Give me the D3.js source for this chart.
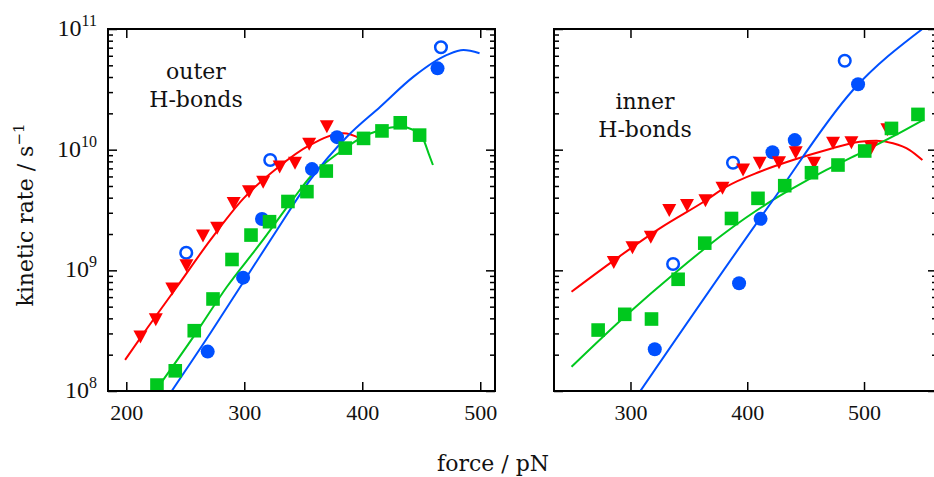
<!DOCTYPE html>
<html>
<head>
<meta charset="utf-8">
<script src="https://cdn.jsdelivr.net/npm/d3@7"></script>
<style>
  body { margin: 0; background: #ffffff; }
  svg { display: block; }
</style>
</head>
<body>
<svg id="chart" width="934" height="477"></svg>
<script>
// ---- Outer H-bonds: measured rates (force in pN, rate in 1/s) ----
const outerRedForce   = [212, 225, 239, 251, 265, 277, 291, 304, 316, 330, 343, 355, 370];
const outerRedRate    = [2.8e8, 3.9e8, 7.0e8, 1.09e9, 1.93e9, 2.23e9, 3.58e9, 4.49e9, 5.37e9, 7.2e9, 7.7e9, 1.11e10, 1.55e10];
const outerGreenForce = [226, 241.5, 257.6, 273.5, 289.6, 305.7, 321.4, 337, 353.1, 369.5, 385.6, 401.1, 416.7, 432.2, 448.6];
const outerGreenRate  = [1.12e8, 1.47e8, 3.16e8, 5.79e8, 1.23e9, 1.96e9, 2.53e9, 3.72e9, 4.49e9, 6.65e9, 1.03e10, 1.24e10, 1.43e10, 1.67e10, 1.32e10];
const outerBlueForce  = [269, 299, 315, 357.4, 378.6, 463.8];
const outerBlueRate   = [2.12e8, 8.7e8, 2.66e9, 6.9e9, 1.27e10, 4.72e10];
const outerOpenForce  = [250.8, 322, 466.7];
const outerOpenRate   = [1.40e9, 8.2e9, 7.05e10];

// ---- Outer H-bonds: fitted curves ----
const outerFitRedForce   = [199, 214.7, 243, 271.2, 299.4, 327.7, 355.9, 384.2, 398.3];
const outerFitRedRate    = [1.81e8, 3.01e8, 7.31e8, 1.78e9, 3.95e9, 7.02e9, 1.094e10, 1.368e10, 1.242e10];
const outerFitGreenForce = [224.6, 257.0, 285.3, 313.6, 341.8, 355.9, 381.4, 398.3, 415.3, 432.2, 443.5, 452.0, 456.2, 459.9];
const outerFitGreenRate  = [1.0e8, 2.82e8, 7.31e8, 1.67e9, 3.95e9, 5.94e9, 9.62e9, 1.242e10, 1.455e10, 1.549e10, 1.455e10, 1.202e10, 9.33e9, 7.46e9];
const outerFitBlueForce  = [238.5, 271.2, 299.4, 327.7, 355.9, 387.0, 415.3, 443.5, 471.8, 485.8, 499.4];
const outerFitBlueRate   = [1.0e8, 3.01e8, 8.05e8, 2.16e9, 5.62e9, 1.279e10, 2.27e10, 4.03e10, 6.10e10, 6.70e10, 6.30e10];

// ---- Inner H-bonds: measured rates ----
const innerRedForce   = [285.7, 301.7, 317.4, 333.2, 348.4, 364.2, 378.8, 396.4, 410.7, 427.2, 441.5, 457.2, 473.5, 489.2, 506.3, 520.0];
const innerRedRate    = [1.16e9, 1.54e9, 1.88e9, 3.13e9, 3.45e9, 3.77e9, 4.78e9, 6.78e9, 7.71e9, 7.80e9, 9.44e9, 7.71e9, 1.13e10, 1.14e10, 1.03e10, 1.46e10];
const innerGreenForce = [272.3, 295.1, 318.0, 340.8, 363.6, 386.5, 409.2, 432.1, 455.0, 477.7, 500.6, 523.5, 546.2];
const innerGreenRate  = [3.20e8, 4.32e8, 3.95e8, 8.43e8, 1.68e9, 2.69e9, 3.95e9, 5.03e9, 6.44e9, 7.46e9, 9.75e9, 1.50e10, 1.96e10];
const innerBlueForce  = [320.8, 393.0, 411.4, 421.6, 440.7, 494.9];
const innerBlueRate   = [2.22e8, 7.81e8, 2.67e9, 9.51e9, 1.20e10, 3.48e10];
const innerOpenForce  = [336.5, 387.8, 483.5];
const innerOpenRate   = [1.13e9, 7.80e9, 5.46e10];

// ---- Inner H-bonds: fitted curves ----
const innerFitRedForce   = [249.5, 282.3, 325.1, 365.1, 382.2, 410.7, 439.2, 467.8, 496.3, 510.6, 524.8, 539.1, 550.0];
const innerFitRedRate    = [6.65e8, 1.143e9, 2.228e9, 3.828e9, 4.93e9, 6.56e9, 8.20e9, 9.93e9, 1.164e10, 1.186e10, 1.130e10, 9.93e9, 8.20e9];
const innerFitGreenForce = [249.5, 296.6, 339.4, 382.2, 422.1, 439.2, 467.8, 496.3, 524.8, 550.5];
const innerFitGreenRate  = [1.589e8, 4.27e8, 9.75e8, 2.09e9, 3.83e9, 4.79e9, 6.79e9, 9.33e9, 1.288e10, 1.762e10];
const innerFitBlueForce  = [308.0, 422.1, 490.6, 550.8];
const innerFitBlueRate   = [9.86e7, 3.83e9, 3.12e10, 1.014e11];

// ---- Axis ticks and labels ----
const forceTicks      = [200, 300, 400, 500];
const rateMajorTicks  = [1e8, 1e9, 1e10, 1e11];
const rateTickExps    = ["8", "9", "10", "11"];
const rateMinorTicks  = [];
[1e8, 1e9, 1e10].forEach(d => { for (let m = 2; m <= 9; m++) rateMinorTicks.push(m * d); });
const xAxisTitle = "force / pN";
const yAxisTitle = "kinetic rate / s";
const yAxisTitleExp = "\u22121";

const RED = "#ff0000", GREEN = "#00c81e", BLUE = "#0050ff";
const zip = (a, b) => a.map((v, i) => [v, b[i]]);

const svg = d3.select("#chart");
const defs = svg.append("defs");
const TOP = 29, BOTTOM = 391;

const panels = [
  {
    name: "outer", domain: [184.5, 512.5], left: 108, right: 495, showYLabels: true,
    title: ["outer", "H-bonds"], titleX: 196, titleY: 79,
    fits: [
      { f: outerFitRedForce, r: outerFitRedRate, c: RED },
      { f: outerFitGreenForce, r: outerFitGreenRate, c: GREEN },
      { f: outerFitBlueForce, r: outerFitBlueRate, c: BLUE }
    ],
    blue: [outerBlueForce, outerBlueRate], open: [outerOpenForce, outerOpenRate],
    red: [outerRedForce, outerRedRate], green: [outerGreenForce, outerGreenRate]
  },
  {
    name: "inner", domain: [234.5, 562.5], left: 554, right: 937, showYLabels: false,
    title: ["inner", "H-bonds"], titleX: 645, titleY: 109,
    fits: [
      { f: innerFitRedForce, r: innerFitRedRate, c: RED },
      { f: innerFitGreenForce, r: innerFitGreenRate, c: GREEN },
      { f: innerFitBlueForce, r: innerFitBlueRate, c: BLUE }
    ],
    blue: [innerBlueForce, innerBlueRate], open: [innerOpenForce, innerOpenRate],
    red: [innerRedForce, innerRedRate], green: [innerGreenForce, innerGreenRate]
  }
];

const triangleDown = "M-7,-6.5L7,-6.5L0,6.5Z";

panels.forEach(p => {
  const x = d3.scaleLinear().domain(p.domain).range([p.left, p.right]);
  const y = d3.scaleLog().domain([1e8, 1e11]).range([BOTTOM, TOP]);
  const xTicks = forceTicks.filter(v => v >= p.domain[0] && v <= p.domain[1]);
  const g = svg.append("g").attr("class", "panel-" + p.name);

  const clipId = "clip-" + p.name;
  defs.append("clipPath").attr("id", clipId).append("rect")
    .attr("x", p.left).attr("y", TOP)
    .attr("width", p.right - p.left).attr("height", BOTTOM - TOP);

  // panel label
  const t = g.append("text")
    .attr("font-family", "'DejaVu Serif', serif")
    .attr("font-size", 22).attr("fill", "#111").attr("text-anchor", "middle");
  p.title.forEach((s, i) => {
    t.append("tspan").attr("x", p.titleX).attr("y", p.titleY + i * 28).text(s);
  });

  const plot = g.append("g").attr("clip-path", `url(#${clipId})`);

  // fitted curves
  const line = d3.line().x(d => x(d[0])).y(d => y(d[1])).curve(d3.curveMonotoneX);
  p.fits.forEach(fit => {
    plot.append("path").datum(zip(fit.f, fit.r))
      .attr("d", line).attr("fill", "none")
      .attr("stroke", fit.c).attr("stroke-width", 2);
  });

  // filled circles
  plot.selectAll(null).data(zip(p.blue[0], p.blue[1])).join("circle")
    .attr("cx", d => x(d[0])).attr("cy", d => y(d[1])).attr("r", 7)
    .attr("fill", BLUE);
  // open circles
  plot.selectAll(null).data(zip(p.open[0], p.open[1])).join("circle")
    .attr("cx", d => x(d[0])).attr("cy", d => y(d[1])).attr("r", 5.8)
    .attr("fill", "#fff").attr("stroke", BLUE).attr("stroke-width", 2.5);
  // down triangles
  plot.selectAll(null).data(zip(p.red[0], p.red[1])).join("path")
    .attr("d", triangleDown)
    .attr("transform", d => `translate(${x(d[0])},${y(d[1])})`)
    .attr("fill", RED);
  // squares
  plot.selectAll(null).data(zip(p.green[0], p.green[1])).join("rect")
    .attr("x", d => x(d[0]) - 6.8).attr("y", d => y(d[1]) - 6.8)
    .attr("width", 13.6).attr("height", 13.6)
    .attr("fill", GREEN);

  // axes: inward ticks on all four sides
  const styleAxis = sel => {
    sel.select(".domain").remove();
    sel.selectAll(".tick line").attr("stroke", "#000").attr("stroke-width", 1.5);
  };
  const bottom = g.append("g").attr("transform", `translate(0,${BOTTOM})`)
    .call(d3.axisBottom(x).tickValues(xTicks).tickSize(-9).tickPadding(13));
  styleAxis(bottom);
  bottom.selectAll(".tick text")
    .attr("font-family", "'Liberation Serif', serif").attr("font-size", 22).attr("fill", "#111");

  g.append("g").attr("transform", `translate(0,${TOP})`)
    .call(d3.axisTop(x).tickValues(xTicks).tickSize(-9).tickFormat(""))
    .call(styleAxis);

  [[p.left, d3.axisLeft], [p.right, d3.axisRight]].forEach(([px, axisFn]) => {
    g.append("g").attr("transform", `translate(${px},0)`)
      .call(axisFn(y).tickValues(rateMajorTicks).tickSize(-9).tickFormat(""))
      .call(styleAxis);
    g.append("g").attr("transform", `translate(${px},0)`)
      .call(axisFn(y).tickValues(rateMinorTicks).tickSize(-5).tickFormat(""))
      .call(styleAxis);
  });

  // frame
  g.append("rect")
    .attr("x", p.left).attr("y", TOP)
    .attr("width", p.right - p.left).attr("height", BOTTOM - TOP)
    .attr("fill", "none").attr("stroke", "#000").attr("stroke-width", 2);

  if (p.showYLabels) {
    rateMajorTicks.forEach((v, i) => {
      const lab = g.append("text")
        .attr("x", p.left - 11).attr("y", y(v) + 7)
        .attr("text-anchor", "end")
        .attr("font-family", "'Liberation Serif', serif").attr("font-size", 24).attr("fill", "#111")
        .text("10");
      lab.append("tspan").attr("dy", -10).attr("font-size", 16).text(rateTickExps[i]);
    });
  }
});

// axis titles
svg.append("text")
  .attr("x", 493).attr("y", 471).attr("text-anchor", "middle")
  .attr("font-family", "'DejaVu Serif', serif").attr("font-size", 22).attr("fill", "#111")
  .text(xAxisTitle);

const yt = svg.append("text")
  .attr("transform", "translate(33,215) rotate(-90)")
  .attr("text-anchor", "middle")
  .attr("font-family", "'DejaVu Serif', serif").attr("font-size", 22).attr("fill", "#111")
  .text(yAxisTitle);
yt.append("tspan").attr("dy", -9).attr("font-size", 15).text(yAxisTitleExp);
</script>
</body>
</html>
